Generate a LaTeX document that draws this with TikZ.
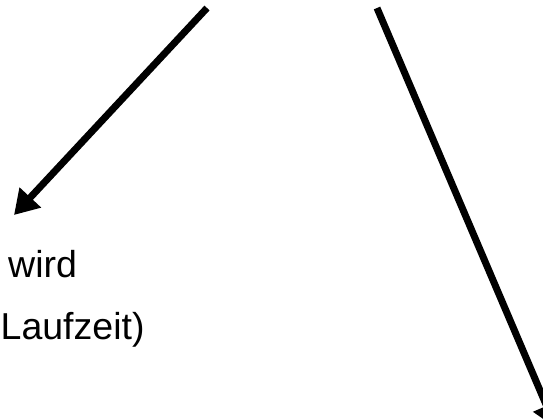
\documentclass[tikz,border=0pt]{standalone}
\usepackage{fontspec}
\setmainfont{Liberation Sans}
\usetikzlibrary{arrows.meta}
\begin{document}
\begin{tikzpicture}[x=1pt,y=-1pt,
  bigarrow/.style={line width=7pt,-{Triangle[length=24pt,width=28pt]}},
  label/.style={inner sep=0pt,anchor=base west,font=\fontsize{37.5}{45}\selectfont}]
\useasboundingbox (0,0) rectangle (543,418);
\clip (0,0) rectangle (543,418);
\coordinate (a1s) at (207,8);
\coordinate (a1e) at (14,215);
\coordinate (a2s) at (377,8);
\coordinate (a2e) at (556,428);
\draw[bigarrow] (a1s) -- (a1e);
\draw[bigarrow] (a2s) -- (a2e);
\node[label] (t1) at (8,277) {wird};
\node[label] (t2) at (0.5,339) {Laufzeit)};
\end{tikzpicture}
\end{document}
